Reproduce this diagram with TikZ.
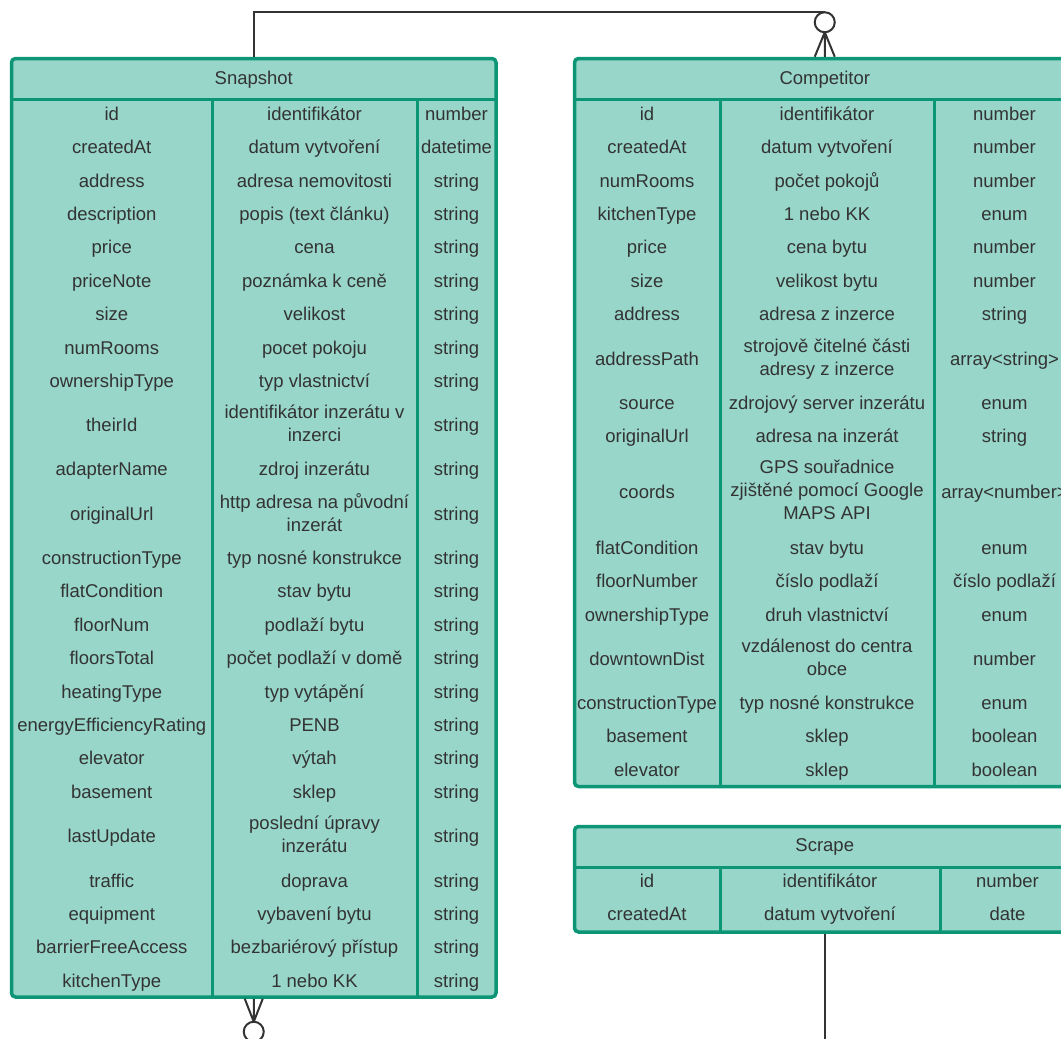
\documentclass[tikz,border=0pt]{standalone}
\usepackage{fontspec}
\setmainfont{Liberation Sans}
\usetikzlibrary{calc}
\definecolor{tealfill}{RGB}{151,214,201}
\definecolor{tealedge}{RGB}{12,150,118}
\definecolor{ink}{RGB}{51,51,51}

\begin{document}
\begin{tikzpicture}[
    x=1pt, y=-1pt,
    tbl/.style={draw=tealedge, fill=tealfill, line width=3.5pt, rounded corners=4pt, inner sep=0pt},
    sep/.style={draw=tealedge, line width=3pt},
    cell/.style={font=\fontsize{18.5}{23}\selectfont, text=ink, align=center, inner sep=0pt, yshift=-2.5pt,
                 execute at begin node=\strut, execute at end node=\strut},
    conn/.style={draw=ink, line width=2pt}
]
\useasboundingbox (0,0) rectangle (1061,1039);
\clip (0,0) rectangle (1061,1039);

% tables
\node[tbl, minimum width=484.5pt, minimum height=938.5pt] (snap) at (253.75,527.75) {};
\node[tbl, minimum width=500.5pt, minimum height=728pt] (comp) at (824.75,422.5) {};
\node[tbl, minimum width=500.5pt, minimum height=105.5pt] (scr) at (824.75,879.25) {};

\draw[sep] (11.5,99) -- (496,99) (212,99) -- (212,997) (417,99) -- (417,997);
\draw[sep] (574.5,99) -- (1075,99) (720,99) -- (720,786.5) (934,99) -- (934,786.5);
\draw[sep] (574.5,867) -- (1075,867) (720,867) -- (720,932) (940,867) -- (940,932);

\node[cell] (snap-title) at (253.75,77) {Snapshot};
\node[cell] (comp-title) at (824.75,77) {Competitor};
\node[cell] (scr-title) at (824.75,844) {Scrape};

% Snapshot rows
\foreach \ry/\fld/\dsc/\typ [count=\i] in {
    113/id/identifikátor/number,
    146/createdAt/datum vytvoření/datetime,
    180/address/adresa nemovitosti/string,
    213/description/popis (text článku)/string,
    246/price/cena/string,
    280/priceNote/poznámka k ceně/string,
    313/size/velikost/string,
    347/numRooms/pocet pokoju/string,
    380/ownershipType/typ vlastnictví/string,
    424/theirId/identifikátor inzerátu v\\inzerci/string,
    468/adapterName/zdroj inzerátu/string,
    513/originalUrl/http adresa na původní\\inzerát/string,
    557/constructionType/typ nosné konstrukce/string,
    590/flatCondition/stav bytu/string,
    624/floorNum/podlaží bytu/string,
    657/floorsTotal/počet podlaží v domě/string,
    691/heatingType/typ vytápění/string,
    724/energyEfficiencyRating/PENB/string,
    757/elevator/výtah/string,
    791/basement/sklep/string,
    835/lastUpdate/poslední úpravy\\inzerátu/string,
    880/traffic/doprava/string,
    913/equipment/vybavení bytu/string,
    946/barrierFreeAccess/bezbariérový přístup/string,
    980/kitchenType/1 nebo KK/string}{
    \node[cell] (snap-a\i) at (111.75,\ry) {\fld};
    \node[cell] (snap-b\i) at (314.5,\ry) {\dsc};
    \node[cell] (snap-c\i) at (456.5,\ry) {\typ};
}

% Competitor rows
\foreach \ry/\fld/\dsc/\typ [count=\i] in {
    113/id/identifikátor/number,
    146/createdAt/datum vytvoření/number,
    180/numRooms/počet pokojů/number,
    213/kitchenType/1 nebo KK/enum,
    246/price/cena bytu/number,
    280/size/velikost bytu/number,
    313/address/adresa z inzerce/string,
    358/addressPath/strojově čitelné části\\adresy z inzerce/array<string>,
    402/source/zdrojový server inzerátu/enum,
    435/originalUrl/adresa na inzerát/string,
    491/coords/GPS souřadnice\\zjištěné pomocí Google\\MAPS API/array<number>,
    547/flatCondition/stav bytu/enum,
    580/floorNumber/číslo podlaží/číslo podlaží,
    614/ownershipType/druh vlastnictví/enum,
    658/downtownDist/vzdálenost do centra\\obce/number,
    702/constructionType/typ nosné konstrukce/enum,
    735/basement/sklep/boolean,
    769/elevator/sklep/boolean}{
    \node[cell] (comp-a\i) at (647,\ry) {\fld};
    \node[cell] (comp-b\i) at (827,\ry) {\dsc};
    \node[cell] (comp-c\i) at (1004.5,\ry) {\typ};
}

% Scrape rows
\foreach \ry/\fld/\dsc/\typ [count=\i] in {
    880/id/identifikátor/number,
    913/createdAt/datum vytvoření/date}{
    \node[cell] (scr-a\i) at (647,\ry) {\fld};
    \node[cell] (scr-b\i) at (830,\ry) {\dsc};
    \node[cell] (scr-c\i) at (1007.5,\ry) {\typ};
}

% Snapshot -- Competitor
\coordinate (comp-foot) at ($(comp.north)+(0,-24.5)$);
\draw[conn] (snap.north) |- ($(comp-foot)+(0,-20)$);
\draw[conn] ($(comp-foot)+(0,-10)$) circle (10pt);
\draw[conn] (comp-foot) -- (comp.north) (comp-foot) -- ($(comp.north)+(-10,0)$)
    (comp-foot) -- ($(comp.north)+(10,0)$);

% Snapshot -- Scrape
\coordinate (snap-foot) at ($(snap.south)+(0,23)$);
\draw[conn] (snap-foot) -- (snap.south) (snap-foot) -- ($(snap.south)+(-9,0)$)
    (snap-foot) -- ($(snap.south)+(9,0)$);
\draw[conn] ($(snap-foot)+(0,10)$) circle (10pt);
\draw[conn] ($(snap-foot)+(0,20)$) |- ($(scr.south)+(0,150)$) -- (scr.south);
\end{tikzpicture}
\end{document}
